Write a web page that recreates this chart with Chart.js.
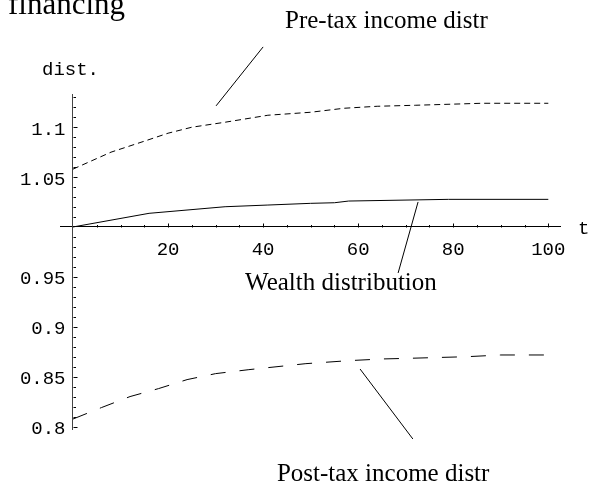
<!DOCTYPE html>
<html>
<head>
<meta charset="utf-8">
<script src="https://cdn.jsdelivr.net/npm/chart.js@4/dist/chart.umd.min.js"></script>
<style>
  html, body { margin: 0; padding: 0; background: #fff; }
</style>
</head>
<body>
<canvas id="distChart" width="608" height="487"></canvas>
<script>
// values (t, relative dist.)
const preTaxT = [0, 8, 15, 20, 25, 32, 41, 50, 57, 64, 72, 86, 100];
const preTax = [1.058, 1.075, 1.086, 1.094, 1.100, 1.105, 1.112, 1.115, 1.119, 1.121, 1.122, 1.124, 1.124];

const wealthT = [0, 16, 32, 41, 50, 55, 58, 79, 100];
const wealth = [1.0, 1.0137, 1.0203, 1.022, 1.0237, 1.0243, 1.026, 1.0277, 1.0277];

const postTaxT = [0, 6, 12, 18, 24, 30, 37, 49, 58, 65, 71, 83, 90, 100];
const postTax = [0.8075, 0.819, 0.830, 0.838, 0.847, 0.853, 0.857, 0.863, 0.866, 0.8677, 0.8684, 0.870, 0.8717, 0.8717];

const xTickLabels = [20, 40, 60, 80, 100];
const yTickLabels = [0.8, 0.85, 0.9, 0.95, 1.05, 1.1];

// leader lines, in data coordinates
const preTaxLeader = [[40, 1.1805], [30.1, 1.1214]];
const wealthLeader = [[72.6, 1.0251], [68.4, 0.9539]];
const postTaxLeader = [[60.4, 0.8576], [71.5, 0.7875]];

const curveLabels = [
    { text: "Pre-tax income distr", t: 44.6, v: 1.1995 },
    { text: "Wealth distribution", t: 36.2, v: 0.9368 },
    { text: "Post-tax income distr", t: 42.9, v: 0.7454 }
];

const toPoints = (xs, ys) => xs.map((x, i) => ({ x: x, y: ys[i] }));
const toLeader = (pairs) => pairs.map(p => ({ x: p[0], y: p[1] }));

const monoFont = "'Liberation Mono', 'DejaVu Sans Mono', monospace";
const serifFont = "'Liberation Serif', 'DejaVu Serif', serif";

const lineStyle = {
    borderColor: "#000",
    borderWidth: 1,
    pointRadius: 0,
    fill: false,
    tension: 0
};

const leaderStyle = {
    borderColor: "#000",
    borderWidth: 1,
    pointRadius: 0,
    fill: false,
    clip: false
};

const axisDecor = {
    id: "axisDecor",
    afterDraw(chart) {
        const ctx = chart.ctx;
        const xs = chart.scales.x, ys = chart.scales.y;
        const x0 = Math.round(xs.getPixelForValue(0)) + 0.5;
        const y0 = Math.round(ys.getPixelForValue(1)) + 0.5;
        ctx.save();
        ctx.strokeStyle = "#000";
        ctx.lineWidth = 1;
        ctx.beginPath();
        for (let t = 5; t <= 100; t += 5) {
            const px = Math.round(xs.getPixelForValue(t)) + 0.5;
            const len = t % 20 === 0 ? 4 : 2.5;
            ctx.moveTo(px, y0);
            ctx.lineTo(px, y0 - len);
        }
        for (let k = 80; k <= 113; k++) {
            if (k === 100) continue;
            const py = Math.round(ys.getPixelForValue(k / 100)) + 0.5;
            const len = k % 5 === 0 ? 4 : 2.5;
            ctx.moveTo(x0, py);
            ctx.lineTo(x0 + len, py);
        }
        ctx.stroke();

        ctx.fillStyle = "#000";
        ctx.font = "19px " + monoFont;
        // y tick labels, right aligned left of the axis
        ctx.textAlign = "right";
        ctx.textBaseline = "middle";
        yTickLabels.forEach(v => {
            ctx.fillText(String(v), x0 - 8, ys.getPixelForValue(v) + 2.5);
        });

        ctx.textBaseline = "alphabetic";
        ctx.textAlign = "center";
        ctx.fillText("dist.", x0 - 3, chart.chartArea.top - 19);
        ctx.textAlign = "left";
        ctx.fillText("t", chart.chartArea.right + 18, y0 + 6);

        ctx.font = "25px " + serifFont;
        curveLabels.forEach(l => {
            ctx.fillText(l.text, xs.getPixelForValue(l.t), ys.getPixelForValue(l.v));
        });

        ctx.font = "31px " + serifFont;
        ctx.fillText("financing", 8, 13.5);
        ctx.restore();
    }
};

const ctxDist = document.getElementById("distChart").getContext("2d");
new Chart(ctxDist, {
    type: "line",
    data: {
        datasets: [
            Object.assign({ label: "Pre-tax income distr", data: toPoints(preTaxT, preTax), borderDash: [6, 4] }, lineStyle),
            Object.assign({ label: "Wealth distribution", data: toPoints(wealthT, wealth) }, lineStyle),
            Object.assign({ label: "Post-tax income distr", data: toPoints(postTaxT, postTax), borderDash: [15, 14] }, lineStyle),
            Object.assign({ label: "l1", data: toLeader(preTaxLeader) }, leaderStyle),
            Object.assign({ label: "l2", data: toLeader(wealthLeader) }, leaderStyle),
            Object.assign({ label: "l3", data: toLeader(postTaxLeader) }, leaderStyle)
        ]
    },
    options: {
        responsive: false,
        animation: false,
        devicePixelRatio: 1,
        layout: { padding: { left: 60, right: 48, top: 94, bottom: 58 } },
        plugins: { legend: { display: false }, tooltip: { enabled: false } },
        scales: {
            x: {
                type: "linear",
                min: -2.735,
                max: 102.46,
                position: { y: 1 },
                grid: { display: false, drawTicks: false },
                border: { display: true, color: "#000", width: 1 },
                ticks: { color: "#000", font: { family: monoFont, size: 19 }, padding: 12, maxRotation: 0 },
                afterBuildTicks: s => { s.ticks = xTickLabels.map(v => ({ value: v })); },
                afterFit: s => { s.height = 0; }
            },
            y: {
                type: "linear",
                min: 0.7975,
                max: 1.1333,
                position: { x: 0 },
                grid: { display: false, drawTicks: false },
                border: { display: true, color: "#444", width: 1 },
                ticks: { display: false },
                afterBuildTicks: s => { s.ticks = yTickLabels.map(v => ({ value: v })); },
                afterFit: s => { s.width = 0; }
            }
        }
    },
    plugins: [axisDecor]
});
</script>
</body>
</html>
